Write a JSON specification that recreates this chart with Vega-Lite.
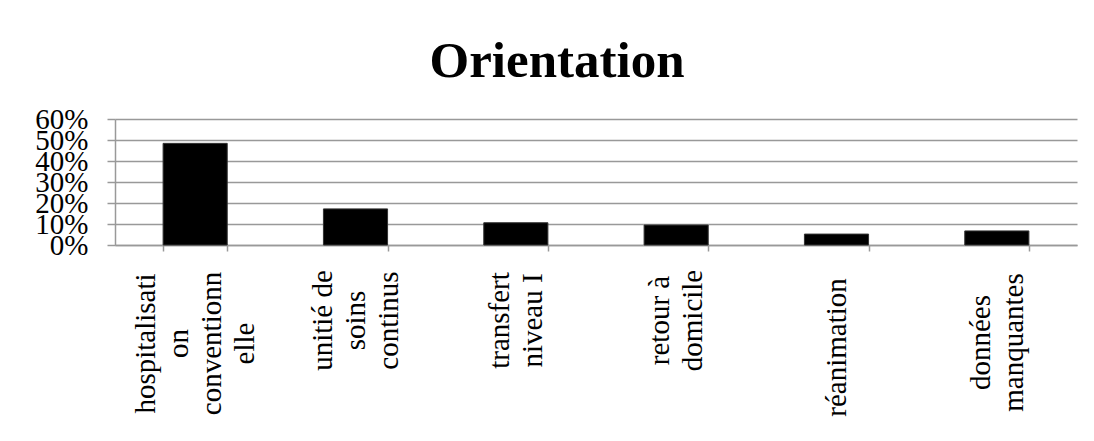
{
  "$schema": "https://vega.github.io/schema/vega-lite/v6.json",
  "autosize": "none",
  "width": 962,
  "height": 126,
  "padding": {"left": 115, "top": 119, "right": 17, "bottom": 196},
  "background": "white",
  "title": {
    "text": "Orientation",
    "font": "Liberation Serif",
    "fontSize": 51,
    "fontWeight": "bold",
    "color": "black",
    "anchor": "middle",
    "baseline": "alphabetic",
    "offset": -23,
    "dx": -39
  },
  "data": {
    "values": [
      {"orientation": "hospitalisation conventionnelle", "part": 0.484},
      {"orientation": "unitié de soins continus", "part": 0.172},
      {"orientation": "transfert niveau I", "part": 0.106},
      {"orientation": "retour à domicile", "part": 0.095},
      {"orientation": "réanimation", "part": 0.052},
      {"orientation": "données manquantes", "part": 0.067}
    ]
  },
  "mark": {"type": "bar", "color": "black", "stroke": "#333333", "strokeWidth": 1},
  "encoding": {
    "x": {
      "field": "orientation",
      "type": "nominal",
      "sort": null,
      "scale": {"paddingInner": 0.6, "paddingOuter": 0.3},
      "axis": {
        "title": null,
        "labelAngle": -90,
        "labelAlign": "center",
        "labelBaseline": "middle",
        "labelFont": "Liberation Serif",
        "labelFontSize": 29,
        "labelColor": "black",
        "labelLineHeight": 33,
        "labelPadding": {
          "condition": [
            {"test": "datum.value == 'hospitalisation conventionnelle'", "value": 92},
            {"test": "datum.value == 'réanimation'", "value": 96},
            {"test": "datum.value == 'données manquantes'", "value": 91}
          ],
          "value": 69
        },
        "labelOffset": {
          "condition": [
            {"test": "datum.value == 'hospitalisation conventionnelle'", "value": -49.5},
            {"test": "datum.value == 'unitié de soins continus'", "value": -33},
            {"test": "datum.value == 'réanimation'", "value": 0}
          ],
          "value": -16.5
        },
        "labelLimit": 400,
        "tickBand": "extent",
        "tickSize": 6,
        "tickColor": "#999999",
        "tickWidth": 1.5,
        "domainColor": "#999999",
        "domainWidth": 1.5,
        "grid": false,
        "labelExpr": "{'hospitalisation conventionnelle': ['hospitalisati', 'on', 'conventionn', 'elle'], 'unitié de soins continus': ['unitié de', 'soins', 'continus'], 'transfert niveau I': ['transfert', 'niveau I'], 'retour à domicile': ['retour à', 'domicile'], 'réanimation': ['réanimation'], 'données manquantes': ['données', 'manquantes']}[datum.value]"
      }
    },
    "y": {
      "field": "part",
      "type": "quantitative",
      "scale": {"domain": [0, 0.6], "nice": false},
      "axis": {
        "title": null,
        "values": [0, 0.1, 0.2, 0.3, 0.4, 0.5, 0.6],
        "format": ".0%",
        "labelFont": "Liberation Serif",
        "labelFontSize": 29,
        "labelColor": "black",
        "labelPadding": 19,
        "tickSize": 8,
        "tickColor": "#999999",
        "tickWidth": 1.5,
        "gridColor": "#999999",
        "gridWidth": 1.5,
        "domainColor": "#999999",
        "domainWidth": 1.5
      }
    }
  },
  "config": {
    "view": {"stroke": null},
    "axis": {"labelOverlap": false}
  }
}
